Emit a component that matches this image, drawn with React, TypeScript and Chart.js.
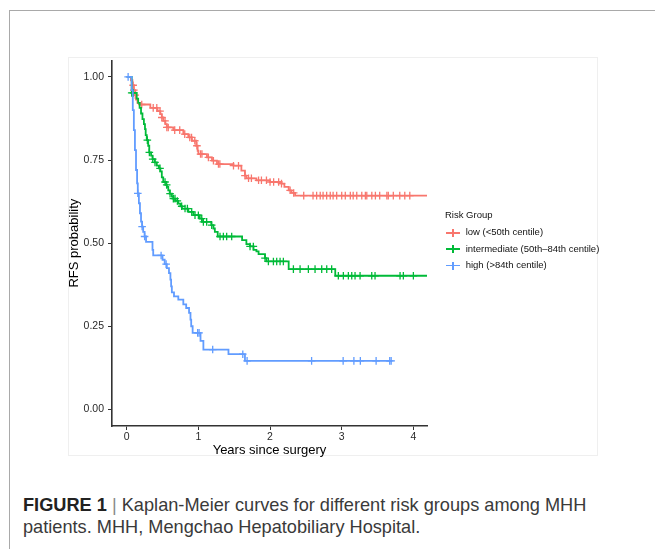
import React, { useEffect, useRef } from "react";
import { Chart, registerables } from "chart.js";

Chart.register(...registerables);

// ---------- data ----------
const xTicks = [0, 1, 2, 3, 4];
const yTicks = [0, 0.25, 0.5, 0.75, 1];
const groupLabels = ["low (<50th centile)", "intermediate (50th\u201384th centile)", "high (>84th centile)"];
const groupColors = ["#F8766D", "#00BA38", "#619CFF"];

// low risk group: event times (years) and survival after each step
const lowTimes = [0, 0.06, 0.08, 0.1, 0.12, 0.13, 0.15, 0.19, 0.33, 0.43, 0.47, 0.49, 0.51, 0.54, 0.56, 0.65, 0.79, 0.86, 0.91, 0.97, 0.99, 1.0, 1.12, 1.19, 1.26, 1.49, 1.6, 1.65, 1.67, 1.81, 2.0, 2.16, 2.2, 2.26, 2.3, 2.35, 4.2];
const lowSurv = [1, 0.99, 0.975, 0.96, 0.945, 0.932, 0.922, 0.917, 0.907, 0.897, 0.888, 0.878, 0.868, 0.858, 0.848, 0.84, 0.828, 0.818, 0.808, 0.793, 0.778, 0.768, 0.758, 0.748, 0.738, 0.733, 0.718, 0.703, 0.695, 0.689, 0.684, 0.679, 0.669, 0.659, 0.651, 0.643, 0.643];
const lowCensor = [0.09, 0.1, 0.12, 0.21, 0.37, 0.42, 0.465, 0.49, 0.535, 0.56, 0.58, 0.67, 0.74, 0.81, 0.88, 0.905, 0.95, 0.98, 1.03, 1.05, 1.14, 1.21, 1.28, 1.3, 1.49, 1.56, 1.65, 1.7, 1.74, 1.84, 1.88, 1.95, 2.0, 2.05, 2.12, 2.16, 2.28, 2.33, 2.47, 2.6, 2.65, 2.7, 2.74, 2.79, 2.84, 2.88, 2.93, 3.0, 3.05, 3.12, 3.16, 3.21, 3.28, 3.33, 3.35, 3.42, 3.47, 3.53, 3.63, 3.65, 3.72, 3.81, 3.88, 3.95];

// intermediate risk group
const midTimes = [0, 0.07, 0.14, 0.16, 0.18, 0.2, 0.22, 0.24, 0.255, 0.265, 0.28, 0.3, 0.315, 0.34, 0.36, 0.39, 0.42, 0.45, 0.47, 0.49, 0.51, 0.55, 0.56, 0.58, 0.6, 0.63, 0.65, 0.68, 0.72, 0.75, 0.77, 0.86, 0.93, 1.02, 1.05, 1.18, 1.21, 1.23, 1.27, 1.61, 1.67, 1.72, 1.77, 1.81, 1.84, 1.93, 1.95, 2.26, 2.91, 4.2];
const midSurv = [1, 0.952, 0.935, 0.922, 0.907, 0.89, 0.873, 0.858, 0.843, 0.825, 0.81, 0.793, 0.773, 0.763, 0.753, 0.743, 0.733, 0.725, 0.716, 0.698, 0.684, 0.675, 0.669, 0.659, 0.649, 0.64, 0.634, 0.627, 0.619, 0.611, 0.604, 0.594, 0.584, 0.574, 0.564, 0.554, 0.544, 0.534, 0.52, 0.509, 0.497, 0.49, 0.48, 0.475, 0.467, 0.455, 0.445, 0.422, 0.402, 0.402];
const midCensor = [0.07, 0.093, 0.288, 0.316, 0.363, 0.395, 0.465, 0.535, 0.558, 0.605, 0.651, 0.674, 0.707, 0.767, 0.814, 0.847, 0.907, 0.953, 1.0, 1.047, 1.07, 1.116, 1.186, 1.302, 1.349, 1.395, 1.465, 1.721, 1.767, 1.93, 1.977, 2.047, 2.093, 2.14, 2.186, 2.326, 2.419, 2.535, 2.628, 2.721, 2.791, 2.86, 2.953, 3.023, 3.093, 3.14, 3.186, 3.256, 3.419, 3.465, 3.814, 3.86, 4.0];

// high risk group
const highTimes = [0, 0.07, 0.085, 0.1, 0.115, 0.13, 0.145, 0.155, 0.17, 0.185, 0.2, 0.215, 0.23, 0.25, 0.27, 0.36, 0.37, 0.5, 0.53, 0.56, 0.59, 0.61, 0.62, 0.63, 0.66, 0.72, 0.79, 0.83, 0.87, 0.89, 0.9, 0.92, 1.03, 1.07, 1.42, 1.65, 3.7];
const highSurv = [1, 0.96, 0.9, 0.84, 0.78, 0.72, 0.68, 0.65, 0.62, 0.59, 0.565, 0.55, 0.534, 0.52, 0.504, 0.48, 0.463, 0.45, 0.437, 0.425, 0.41, 0.39, 0.37, 0.352, 0.34, 0.33, 0.316, 0.305, 0.29, 0.27, 0.25, 0.23, 0.206, 0.18, 0.166, 0.146, 0.146];
const highCensor = [0.02, 0.155, 0.215, 0.25, 0.48, 0.55, 0.99, 1.01, 1.2, 1.62, 1.68, 2.58, 3.02, 3.17, 3.26, 3.48, 3.67, 3.69];

const seriesTimes = [lowTimes, midTimes, highTimes];
const seriesSurv = [lowSurv, midSurv, highSurv];
const seriesCensor = [lowCensor, midCensor, highCensor];

// ---------- helpers ----------
function survAt(times: number[], surv: number[], t: number): number {
  let v = surv[0];
  for (let i = 0; i < times.length; i++) {
    if (times[i] <= t) v = surv[i];
    else break;
  }
  return v;
}

const FONT = "'Liberation Sans', Arial, Helvetica, sans-serif";

function KMChart() {
  const ref = useRef<HTMLCanvasElement | null>(null);
  useEffect(() => {
    if (!ref.current) return;
    const datasets: any[] = [];
    for (let g = 0; g < 3; g++) {
      datasets.push({
        label: groupLabels[g],
        data: seriesTimes[g].map((t, i) => ({ x: t, y: seriesSurv[g][i] })),
        showLine: true,
        stepped: "before",
        borderColor: groupColors[g],
        backgroundColor: groupColors[g],
        borderWidth: 1.8,
        pointRadius: 0,
        fill: false,
        order: 2 - g,
      });
      datasets.push({
        label: groupLabels[g] + " censored",
        data: seriesCensor[g].map((t) => ({ x: t, y: survAt(seriesTimes[g], seriesSurv[g], t) })),
        showLine: false,
        pointStyle: "cross",
        pointRadius: 3.8,
        pointBorderWidth: 1.3,
        borderColor: groupColors[g],
        backgroundColor: groupColors[g],
        order: 2 - g,
      });
    }
    const axisColor = "#333333";
    const chart = new Chart(ref.current, {
      type: "scatter",
      data: { datasets },
      options: {
        animation: false,
        responsive: false,
        maintainAspectRatio: false,
        layout: { padding: { top: 7, right: 193, bottom: 0, left: 0 } },
        plugins: { legend: { display: false }, tooltip: { enabled: false } },
        scales: {
          x: {
            type: "linear",
            min: -0.205,
            max: 4.19,
            afterBuildTicks: (s: any) => {
              s.ticks = xTicks.map((v) => ({ value: v }));
            },
            afterFit: (s: any) => {
              s.height = 44;
            },
            grid: { display: true, drawOnChartArea: false, drawTicks: true, tickLength: 4, color: axisColor, lineWidth: 1 },
            border: { display: true, color: axisColor, width: 1.6 },
            ticks: { padding: 1, color: "#2a2a2a", font: { size: 10.5, family: FONT }, maxRotation: 0, autoSkip: false, callback: (v: any) => String(v) },
            title: { display: true, text: "Years since surgery", color: "#000", font: { size: 13, family: FONT }, padding: { top: 0, bottom: 12 } },
          },
          y: {
            type: "linear",
            min: -0.05,
            max: 1.05,
            afterBuildTicks: (s: any) => {
              s.ticks = yTicks.map((v) => ({ value: v }));
            },
            afterFit: (s: any) => {
              s.width = 52;
            },
            grid: { display: true, drawOnChartArea: false, drawTicks: true, tickLength: 4, color: axisColor, lineWidth: 1 },
            border: { display: true, color: axisColor, width: 1.6 },
            ticks: { padding: 4, color: "#2a2a2a", font: { size: 10.5, family: FONT }, autoSkip: false, callback: (v: any) => Number(v).toFixed(2) },
            title: { display: true, text: "RFS probability", color: "#000", font: { size: 13, family: FONT }, padding: { top: 7, bottom: 0 } },
          },
        },
      } as any,
    });
    return () => chart.destroy();
  }, []);
  return <canvas ref={ref} width={560} height={420} style={{ position: "absolute", left: 60, top: 50, width: 560, height: 420 }} />;
}

function LegendKey({ color }: { color: string }) {
  return (
    <div style={{ position: "absolute", left: 0, top: -4, width: 14, height: 9 }}>
      <div style={{ position: "absolute", left: 0, top: 3.7, width: 14, height: 1.6, background: color }} />
      <div style={{ position: "absolute", left: 6.2, top: 0.5, width: 1.6, height: 8, background: color }} />
    </div>
  );
}

export default function App() {
  const legendY = [232.3, 248.8, 265.2];
  return (
    <div style={{ position: "fixed", left: 0, top: 0, width: 655, height: 549, background: "#fff", overflow: "hidden", fontFamily: FONT }}>
      {/* figure frame */}
      <div style={{ position: "absolute", left: 9, top: 10, width: 660, height: 560, borderTop: "1.5px solid #a9a9a9", borderLeft: "1.5px solid #a9a9a9" }} />
      {/* chart image box */}
      <div style={{ position: "absolute", left: 68, top: 57, width: 530, height: 399, border: "1px solid #efefef", boxSizing: "border-box" }} />
      <KMChart />
      {/* legend */}
      <div style={{ position: "absolute", left: 445, top: 215, transform: "translateY(-50%)", fontSize: 9.5, color: "#111", whiteSpace: "nowrap", lineHeight: "12px" }}>Risk Group</div>
      {groupLabels.map((lab, i) => (
        <div key={lab} style={{ position: "absolute", left: 446, top: legendY[i] }}>
          <LegendKey color={groupColors[i]} />
          <div style={{ position: "absolute", left: 19.7, top: -6, fontSize: 9.5, color: "#111", whiteSpace: "nowrap", lineHeight: "12px" }}>{lab}</div>
        </div>
      ))}
      {/* caption */}
      <div style={{ position: "absolute", left: 23, top: 493.5, fontSize: 18.2, lineHeight: "22px", color: "#3a3a3a", whiteSpace: "nowrap" }}>
        <span style={{ fontWeight: "bold", color: "#222" }}>FIGURE 1</span>
        <span style={{ color: "#8a8a8a" }}> | </span>
        <span>Kaplan-Meier curves for different risk groups among MHH</span>
      </div>
      <div style={{ position: "absolute", left: 23, top: 515.5, fontSize: 18.2, lineHeight: "22px", color: "#3a3a3a", whiteSpace: "nowrap" }}>
        patients. MHH, Mengchao Hepatobiliary Hospital.
      </div>
    </div>
  );
}
